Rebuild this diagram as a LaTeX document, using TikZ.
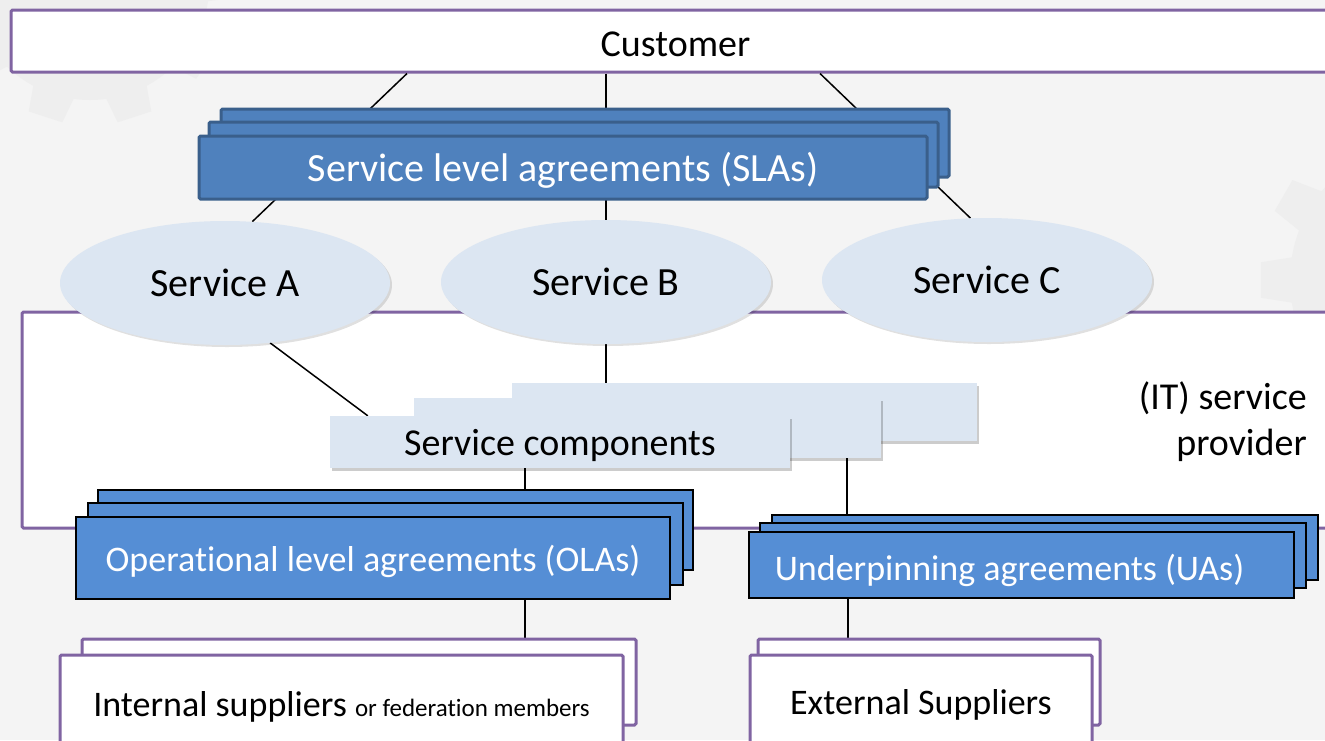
\documentclass[tikz,border=0pt]{standalone}
\usepackage{fontspec}
\setmainfont{Carlito}[Ligatures=NoCommon]
\usetikzlibrary{positioning,calc,shapes.geometric,shadows}
\definecolor{lilac}{HTML}{8064A2}
\definecolor{slafill}{HTML}{4F81BD}
\definecolor{slaedge}{HTML}{3A5F8B}
\definecolor{agreefill}{HTML}{558ED5}
\definecolor{svcfill}{HTML}{DCE6F2}
\definecolor{backdrop}{HTML}{F4F4F4}
\definecolor{gearc}{HTML}{EEEEEE}
\pgfdeclarelayer{back}
\pgfdeclarelayer{wires}
\pgfsetlayers{back,wires,main}
% baseline of a one-line label, #1 below the node centre
\newcommand{\dropby}[2]{\raisebox{-#1}[0pt][0pt]{#2}}
\tikzset{
  partybox/.style={draw=lilac,line width=3pt,fill=white,rounded corners=1.5pt,inner sep=0pt,font=\fontsize{36}{43}\selectfont},
  slabox/.style={draw=slaedge,line width=3pt,fill=slafill,rounded corners=1.5pt,inner sep=0pt,
    minimum width=728pt,minimum height=63pt,text=white,font=\fontsize{40}{48}\selectfont},
  svc/.style={ellipse,fill=svcfill,inner sep=0pt,minimum width=330pt,minimum height=124pt,
    font=\fontsize{40}{48}\selectfont,drop shadow={opacity=0.12,fill=black,shadow xshift=2pt,shadow yshift=-2pt}},
  compbox/.style={fill=svcfill,inner sep=0pt,minimum width=460pt,minimum height=52pt,
    font=\fontsize{38}{46}\selectfont,drop shadow={opacity=0.2,fill=black,shadow xshift=2pt,shadow yshift=-3pt}},
  agreebox/.style={draw=black,line width=2pt,fill=agreefill,inner sep=0pt,text=white,font=\fontsize{36}{43}\selectfont},
  wire/.style={line width=1.5pt}
}

\begin{document}
\begin{tikzpicture}[x=1pt,y=-1pt]
  \useasboundingbox (0,0) rectangle (1325,740);

  \begin{pgfonlayer}{back}
    % backdrop and faint gears
    \fill[backdrop] (0,0) rectangle (1325,740);
    \fill[gearc] (90,-20) circle (120);
    \foreach \a in {0,36,...,324}
      \fill[gearc] ($(90,-20)+(\a-7:145)$) -- ($(90,-20)+(\a+7:145)$) -- ($(90,-20)+(\a+11:115)$) -- ($(90,-20)+(\a-11:115)$) -- cycle;
    \fill[gearc] (1430,280) circle (140);
    \foreach \a in {0,30,...,330}
      \fill[gearc] ($(1430,280)+(\a-6:170)$) -- ($(1430,280)+(\a+6:170)$) -- ($(1430,280)+(\a+10:135)$) -- ($(1430,280)+(\a-10:135)$) -- cycle;

    % customer and provider
    \node[partybox,minimum width=1329pt,minimum height=62pt,font=\fontsize{38}{46}\selectfont] (customer) at (675.5,41) {\dropby{15pt}{Customer}};
    \node[partybox,minimum width=1318pt,minimum height=216pt] (provider) at (681,420) {};
    \node[anchor=east,align=right,inner sep=0pt,font=\fontsize{38}{46}\selectfont] (providertxt) at (1307,422) {(IT) service\\provider};
  \end{pgfonlayer}

  % SLAs
  \node[slabox,minimum height=68pt] (slaC) at (585,143) {};
  \node[slabox,minimum width=729pt,minimum height=65pt] (slaB) at (573.5,154.5) {};
  \node[slabox] (sla) at (563,167.5) {\dropby{14pt}{Service level agreements (SLAs)}};

  % services
  \node[svc] (svcA) at (225,283) {Service A};
  \node[svc] (svcB) at (606,282) {Service B};
  \node[svc] (svcC) at (987,280) {Service C};

  % service components
  \node[compbox,minimum width=465pt,minimum height=58pt] (compC) at (744.5,412) {};
  \node[compbox,minimum width=467pt,minimum height=60pt] (compB) at (647.5,428) {};
  \node[compbox] (comp) at (560,442) {\dropby{13pt}{Service components}};

  % OLAs and UAs
  \node[agreebox,minimum width=595pt,minimum height=80pt] (olaC) at (395.5,530) {};
  \node[agreebox,minimum width=595pt,minimum height=82pt] (olaB) at (385.5,544) {};
  \node[agreebox,minimum width=594pt,minimum height=82pt] (ola) at (373,558) {\dropby{13pt}{Operational level agreements (OLAs)}};
  \node[agreebox,minimum width=546pt,minimum height=65pt] (uaC) at (1045,547.5) {};
  \node[agreebox,minimum width=546pt,minimum height=65pt] (uaB) at (1033,555.5) {};
  \node[agreebox,minimum width=545pt,minimum height=66pt] (ua) at (1021.5,565) {\dropby{15pt}{Underpinning agreements (UAs)\kern24pt}};

  % suppliers
  \node[partybox,minimum width=554pt,minimum height=86pt] (intB) at (359,682) {};
  \node[partybox,minimum width=563pt,minimum height=100pt] (int) at (341.5,705)
    {\dropby{11pt}{Internal suppliers {\fontsize{25}{30}\selectfont or federation members}}};
  \node[partybox,minimum width=342pt,minimum height=86pt] (extB) at (929,682) {};
  \node[partybox,minimum width=342pt,minimum height=100pt] (ext) at (921,705) {\dropby{9pt}{External Suppliers}};

  \begin{pgfonlayer}{wires}
    % connectors
    \draw[wire] ([xshift=-268.5pt]customer.south) -- (svcA.66);
    \draw[wire] (customer.south -| svcB.north) -- (svcB.north);
    \draw[wire] ([xshift=144.5pt]customer.south) -- (svcC.105);
    \draw[wire] (svcA.-53) -- ([xshift=38pt]comp.north west);
    \draw[wire] (svcB.south) -- (svcB.south |- compC.north);
    \draw[wire] ([xshift=-35pt]comp.south) -- ([xshift=-35pt]comp.south |- olaC.north);
    \draw[wire] ([xshift=199.5pt]compB.south) -- ([xshift=199.5pt]compB.south |- uaC.north);
    \draw[wire] ([xshift=152pt]ola.south) -- ([xshift=152pt]ola.south |- intB.north);
    \draw[wire] ([xshift=-173.5pt]ua.south) -- ([xshift=-173.5pt]ua.south |- extB.north);
  \end{pgfonlayer}
\end{tikzpicture}
\end{document}
